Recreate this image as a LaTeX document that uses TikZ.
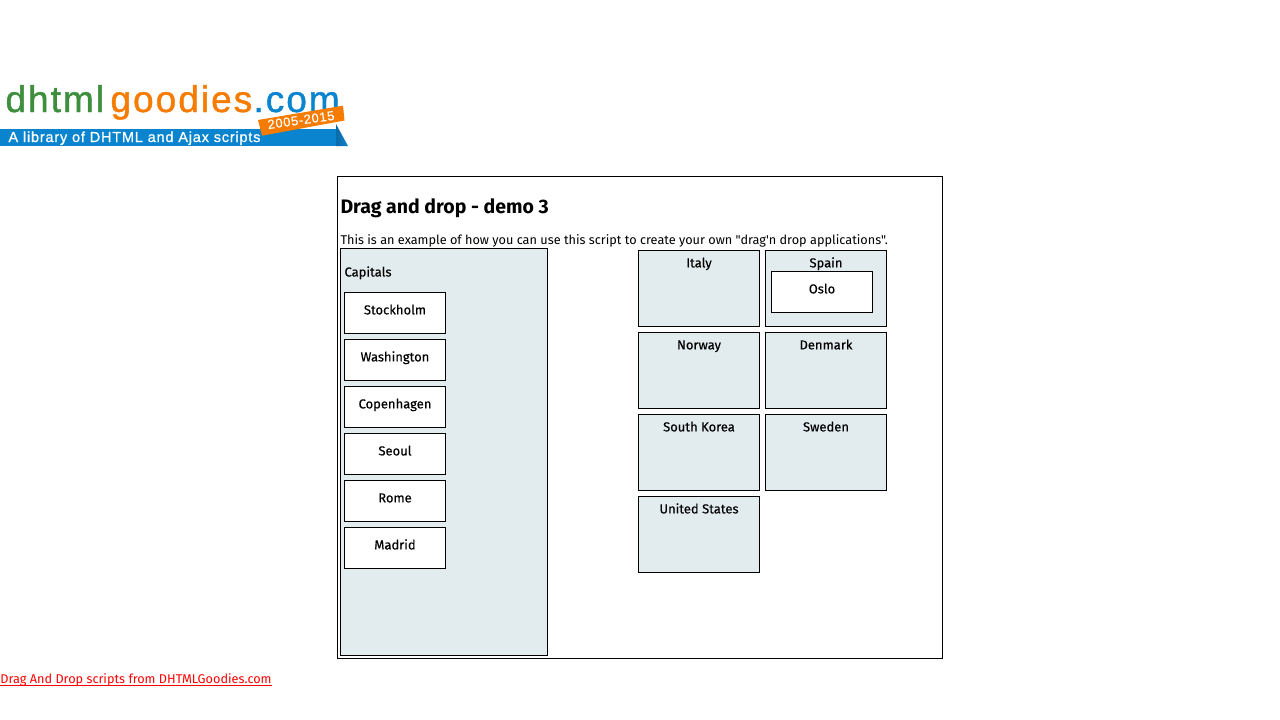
\documentclass[tikz,border=0pt]{standalone}
\usepackage{fontspec}
\setmainfont{Fira Sans}
\newfontfamily\plainfont{Fira Sans}
\newfontfamily\labelfont[FakeBold=0.3]{Fira Sans}
\newfontfamily\logofont[LetterSpace=5.5,FakeBold=1.2]{Liberation Sans}
\newfontfamily\tagfont[LetterSpace=5.5,FakeBold=0.8]{Liberation Sans}
\newfontfamily\yearfont[LetterSpace=5,FakeBold=0.3]{Liberation Sans}
\definecolor{panelgrey}{HTML}{E2EBED}
\definecolor{logogreen}{HTML}{3D8F3D}
\definecolor{logoorange}{HTML}{F57C00}
\definecolor{logoblue}{HTML}{0A84CE}
\definecolor{logoshadow}{HTML}{0A6BA8}
\begin{document}
\begin{tikzpicture}[x=1pt,y=-1pt,line width=1pt,
    every node/.style={inner sep=0pt,font=\labelfont\fontsize{13}{15}\selectfont},
    panelbox/.style={draw,fill=panelgrey,minimum width=121,minimum height=76},
    capbox/.style={draw,fill=white,minimum width=101,minimum height=41},
    boxtext/.style={anchor=base,yshift=0.6pt},
    logotext/.style={anchor=base west,font=\logofont\fontsize{37}{40}\selectfont}]
  \useasboundingbox (0,0) rectangle (1280,720);
  % logo
  \node[logotext,text=logogreen] (logodhtml) at (5,112) {dhtml};
  \node[logotext,text=logoorange] (logogoodies) at (110,112) {goodies};
  \node[logotext,text=logoblue] (logocom) at (253,112) {.com};
  \fill[logoblue] (0,129) rectangle (336,146);
  \shade[left color=logoshadow,right color=logoblue] (336,124) -- (348,146) -- (336,146) -- cycle;
  \fill[logoorange] (258,120) -- (343,105.7) -- (344.5,120.5) -- (262,135.7) -- cycle;
  \node[anchor=base west,text=white,font=\tagfont\fontsize{14.5}{16}\selectfont] (logoline) at (8,142) {A library of DHTML and Ajax scripts};
  \node[text=white,rotate=8,font=\yearfont\fontsize{13}{15}\selectfont] (logoyears) at (301,120) {2005-2015};
  % page
  \node[draw,minimum width=605,minimum height=482] (page) at (640,417.5) {};
  \node[anchor=base west,font=\bfseries\fontsize{19.5}{22}\selectfont] (title) at (340,213) {Drag and drop - demo 3};
  \node[anchor=base west,font=\plainfont\fontsize{12.7}{15}\selectfont] (intro) at (340,244.5) {This is an example of how you can use this script to create your own "drag'n drop applications".};
  % capitals
  \node[draw,fill=panelgrey,minimum width=207,minimum height=407] (capitals) at (444,452) {};
  \node[anchor=base west] (capitalstext) at (344,276.5) {Capitals};
  \node[capbox] (stockholm) at (395,313) {};
  \node[capbox] (washington) at (395,360) {};
  \node[capbox] (copenhagen) at (395,407) {};
  \node[capbox] (seoul) at (395,454) {};
  \node[capbox] (rome) at (395,501) {};
  \node[capbox] (madrid) at (395,548) {};
  \node[boxtext] at (395,315) {Stockholm};
  \node[boxtext] at (395,362) {Washington};
  \node[boxtext] at (395,409) {Copenhagen};
  \node[boxtext] at (395,456) {Seoul};
  \node[boxtext] at (395,503) {Rome};
  \node[boxtext] at (395,550) {Madrid};
  % countries
  \node[panelbox] (italy) at (699,288.5) {};
  \node[panelbox] (spain) at (826,288.5) {};
  \node[panelbox] (norway) at (699,370.5) {};
  \node[panelbox] (denmark) at (826,370.5) {};
  \node[panelbox] (korea) at (699,452.5) {};
  \node[panelbox] (sweden) at (826,452.5) {};
  \node[panelbox] (usa) at (699,534.5) {};
  \node[boxtext] at (699,268) {Italy};
  \node[boxtext] at (826,268) {Spain};
  \node[boxtext] at (699,350) {Norway};
  \node[boxtext] at (826,350) {Denmark};
  \node[boxtext] at (699,432) {South Korea};
  \node[boxtext] at (826,432) {Sweden};
  \node[boxtext] at (699,514) {United States};
  \node[capbox] (oslo) at (822,292) {};
  \node[boxtext] at (822,294) {Oslo};
  % link
  \node[anchor=base west,text=red,font=\plainfont\fontsize{12.7}{15}\selectfont] (link) at (0,683.5) {Drag And Drop scripts from DHTMLGoodies.com};
  \draw[red] ([yshift=-1.5pt]link.base west) -- ([yshift=-1.5pt]link.base east);
\end{tikzpicture}
\end{document}
